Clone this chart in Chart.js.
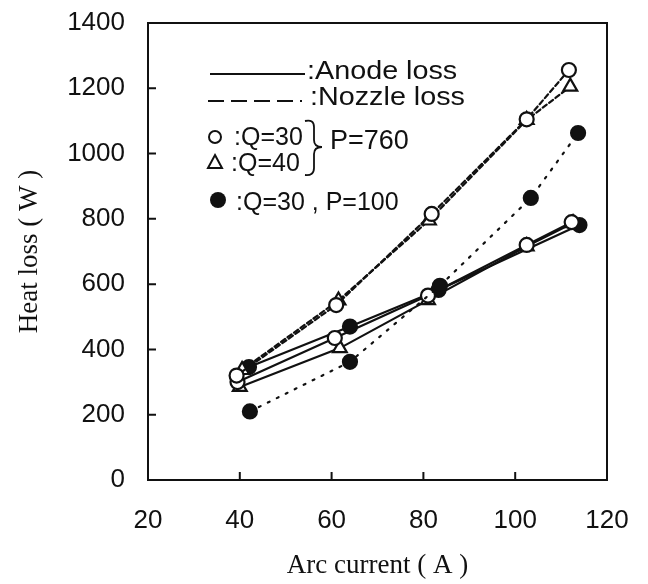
<!DOCTYPE html>
<html>
<head>
<meta charset="utf-8">
<script src="https://cdn.jsdelivr.net/npm/chart.js@4.4.1/dist/chart.umd.min.js"></script>
<style>
  html, body { margin: 0; padding: 0; background: #fff; }
  #wrap { width: 648px; height: 584px; }
</style>
</head>
<body>
<div id="wrap"><canvas id="heat-loss-chart" width="648" height="584"></canvas></div>
<script>
// values: arc current (A) / heat loss (W)
const nozzle760Q30 = [[39.3, 320], [61, 536], [81.8, 815], [102.5, 1105], [111.7, 1256]];
const nozzle760Q40 = [[40.5, 337], [61.5, 550], [81.2, 795], [102.5, 1103], [112, 1205]];
const anode760Q30 = [[39.5, 300], [60.7, 435], [81, 565], [102.5, 720], [112.3, 790]];
const anode760Q40 = [[40, 285], [61.8, 404], [81, 551], [102.5, 716], [112.6, 787]];
const anode100Q30 = [[42, 346], [64, 470], [83.3, 582], [114, 781]];
const nozzle100Q30 = [[42.2, 210], [64, 362], [83.6, 595], [103.4, 864], [113.7, 1063]];

const xTicks = [20, 40, 60, 80, 100, 120];
const yTicks = [0, 200, 400, 600, 800, 1000, 1200, 1400];

const INK = '#111';
const SANS = '"Liberation Sans", Arial, sans-serif';
const SERIF = '"Liberation Serif", "Times New Roman", serif';

function pts(arr) {
  return arr.map(p => ({x: p[0], y: p[1]}));
}

function series(label, arr, style, filled, dash) {
  return {
    label,
    data: pts(arr),
    showLine: true,
    borderColor: INK,
    borderWidth: 2.2,
    borderDash: dash,
    borderCapStyle: dash.length ? 'round' : 'butt',
    pointStyle: style,
    pointRadius: style === 'triangle' ? 8 : 7,
    pointBorderWidth: 2.2,
    pointBorderColor: INK,
    pointBackgroundColor: filled ? INK : '#fff',
    tension: 0
  };
}

// frame, inward ticks and the in-plot key
const decorations = {
  id: 'decorations',
  afterDraw(chart) {
    const {ctx, chartArea: a, scales} = chart;
    ctx.save();
    ctx.strokeStyle = INK;
    ctx.lineWidth = 2;
    ctx.strokeRect(a.left, a.top, a.right - a.left, a.bottom - a.top);

    ctx.beginPath();
    for (const v of yTicks) {
      const y = scales.y.getPixelForValue(v);
      ctx.moveTo(a.left, y); ctx.lineTo(a.left + 8, y);
    }
    for (const v of xTicks) {
      const x = scales.x.getPixelForValue(v);
      ctx.moveTo(x, a.bottom); ctx.lineTo(x, a.bottom - 8);
    }
    ctx.stroke();

    // key
    ctx.fillStyle = INK;
    ctx.textBaseline = 'middle';
    ctx.font = '25px ' + SANS;

    ctx.beginPath();
    ctx.moveTo(210, 74); ctx.lineTo(305, 74);
    ctx.stroke();
    ctx.setLineDash([16, 7]);
    ctx.beginPath();
    ctx.moveTo(208, 101); ctx.lineTo(302, 101);
    ctx.stroke();
    ctx.setLineDash([]);

    ctx.save();
    ctx.translate(307, 72);
    ctx.scale(1.15, 1);
    ctx.fillText(':Anode loss', 0, 0);
    ctx.restore();
    ctx.save();
    ctx.translate(310, 98);
    ctx.scale(1.15, 1);
    ctx.fillText(':Nozzle loss', 0, 0);
    ctx.restore();

    ctx.beginPath();
    ctx.arc(215, 137, 6, 0, Math.PI * 2);
    ctx.stroke();
    ctx.fillText(':Q=30', 234, 138);

    ctx.beginPath();
    ctx.moveTo(215, 155); ctx.lineTo(222, 168); ctx.lineTo(208, 168); ctx.closePath();
    ctx.stroke();
    ctx.fillText(':Q=40', 231, 164);

    // brace
    ctx.lineWidth = 1.8;
    ctx.beginPath();
    ctx.moveTo(305, 121);
    ctx.quadraticCurveTo(314, 119, 314, 127);
    ctx.lineTo(314, 140);
    ctx.quadraticCurveTo(314, 147, 322, 147);
    ctx.quadraticCurveTo(314, 147, 314, 154);
    ctx.lineTo(314, 168);
    ctx.quadraticCurveTo(314, 176, 305, 175);
    ctx.stroke();
    ctx.font = '27px ' + SANS;
    ctx.fillText('P=760', 330, 142);
    ctx.font = '25px ' + SANS;

    ctx.beginPath();
    ctx.arc(218, 200, 8, 0, Math.PI * 2);
    ctx.fill();
    ctx.fillText(':Q=30 , P=100', 236, 203);
    ctx.restore();
  }
};

new Chart(document.getElementById('heat-loss-chart'), {
  type: 'scatter',
  data: {
    datasets: [
      series('Nozzle loss Q=30 P=100', nozzle100Q30, 'circle', true, [2, 8]),
      series('Nozzle loss Q=30 P=760', nozzle760Q30, 'circle', false, [5, 3]),
      series('Nozzle loss Q=40 P=760', nozzle760Q40, 'triangle', false, [5, 3]),
      series('Anode loss Q=30 P=760', anode760Q30, 'circle', false, []),
      series('Anode loss Q=40 P=760', anode760Q40, 'triangle', false, []),
      series('Anode loss Q=30 P=100', anode100Q30, 'circle', true, [])
    ]
  },
  options: {
    responsive: false,
    animation: false,
    layout: { padding: { top: 23, right: 41, bottom: 0, left: 0 } },
    plugins: {
      legend: { display: false },
      tooltip: { enabled: false }
    },
    scales: {
      x: {
        type: 'linear',
        min: 20, max: 120,
        afterBuildTicks: s => { s.ticks = xTicks.map(v => ({value: v})); },
        afterFit: s => { s.height = 104; s.paddingLeft = 0; s.paddingRight = 0; },
        grid: { drawOnChartArea: false, drawTicks: false },
        border: { color: INK, width: 2 },
        ticks: { color: INK, padding: 25, font: { family: SANS, size: 26 }, callback: v => String(v) },
        title: {
          display: true,
          text: 'Arc current ( A )',
          color: INK,
          padding: { top: 0, bottom: 2 },
          font: { family: SERIF, size: 27 }
        }
      },
      y: {
        type: 'linear',
        min: 0, max: 1400,
        afterBuildTicks: s => { s.ticks = yTicks.map(v => ({value: v})); },
        afterFit: s => { s.width = 148; s.paddingTop = 0; s.paddingBottom = 0; },
        grid: { drawOnChartArea: false, drawTicks: false },
        border: { color: INK, width: 2 },
        ticks: { color: INK, padding: 23, font: { family: SANS, size: 26 }, callback: v => String(v) },
        title: {
          display: true,
          text: 'Heat loss ( W )',
          color: INK,
          padding: { top: 14, bottom: 14 },
          font: { family: SERIF, size: 27 }
        }
      }
    }
  },
  plugins: [decorations]
});
</script>
</body>
</html>
